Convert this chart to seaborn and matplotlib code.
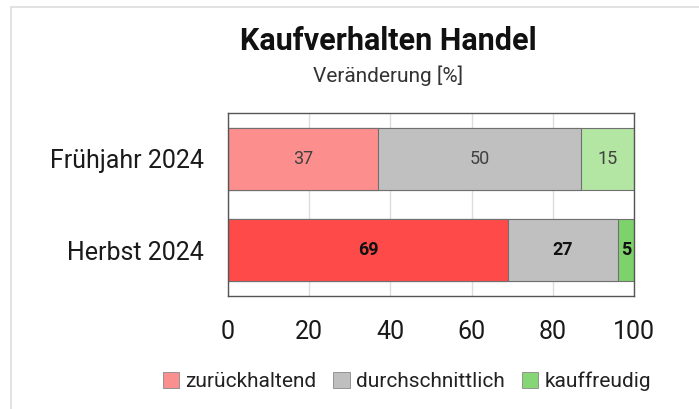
import matplotlib
matplotlib.use("Agg")
from matplotlib import pyplot as plt
from matplotlib.patches import Patch
from matplotlib.lines import Line2D
import numpy as np
import pandas as pd
import seaborn as sns

periods = ["Frühjahr 2024", "Herbst 2024"]
segments = ["zurückhaltend", "durchschnittlich", "kauffreudig"]
zurueck = [37, 69]
durchschnitt = [50, 27]
kauffreudig = [15, 5]

colors = {
    "zurückhaltend": ["#fc8e8e", "#ff4a4a"],
    "durchschnittlich": ["#c0c0c0", "#c0c0c0"],
    "kauffreudig": ["#b3e5a3", "#7ed26c"],
}
legend_colors = ["#f98f8f", "#bfbfbf", "#86d676"]

sns.set_theme(style="white")
plt.rcParams['font.family'] = ['Roboto', 'DejaVu Sans']

fig = plt.figure(figsize=(6.99, 4.09), dpi=100)
ax = fig.add_axes([0.326, 0.276, 0.581, 0.448])

vals = np.array([zurueck, durchschnitt, kauffreudig], dtype=float)
cum = np.cumsum(vals, axis=0)

# draw from the back: total first, then smaller cumulative sums on top
for i in [2, 1, 0]:
    df = pd.DataFrame({"period": periods, "value": cum[i]})
    sns.barplot(data=df, x="value", y="period", hue="period",
                palette=colors[segments[i]], saturation=1, orient="h", width=0.68,
                edgecolor="#707070", linewidth=0.8, legend=False, ax=ax,
                zorder=2)

ax.set_xlim(0, 100)
ax.set_ylim(1.5, -0.5)
ax.set_xticks([0, 20, 40, 60, 80, 100])
ax.xaxis.grid(True, color="#dddddd", linewidth=1, zorder=0)
ax.set_axisbelow(True)
ax.set_xlabel("")
ax.set_ylabel("")
ax.tick_params(axis="both", length=0, labelsize=18, colors="#1a1a1a")
ax.tick_params(axis="y", pad=17)
ax.tick_params(axis="x", pad=17)
for s in ax.spines.values():
    s.set_color("#555555")
    s.set_linewidth(1.0)

# value labels
for r in range(len(periods)):
    left = 0.0
    for i in range(3):
        right = left + vals[i, r]
        xc = (left + min(right, 100)) / 2
        if r == 0:
            ax.text(xc, r, f"{int(vals[i, r])}", ha="center", va="center",
                    fontsize=13, color="#404040", zorder=5)
        else:
            ax.text(xc, r, f"{int(vals[i, r])}", ha="center", va="center",
                    fontsize=13, color="#111111", fontweight="bold", zorder=5)
        left = right

fig.text(0.555, 0.9, "Kaufverhalten Handel", ha="center", va="center",
         fontsize=22, fontweight="bold", color="#111111")
fig.text(0.555, 0.816, "Veränderung [%]", ha="center", va="center",
         fontsize=15, color="#333333")

handles = [Patch(facecolor=c, edgecolor="#888888", linewidth=0.6) for c in legend_colors]
fig.legend(handles, segments, loc="center", bbox_to_anchor=(0.582, 0.068),
           ncol=3, frameon=False, fontsize=15, handlelength=0.8, handleheight=0.8,
           handletextpad=0.3, columnspacing=0.8, labelcolor="#222222")

# light frame on the top and left edges
fig.add_artist(Line2D([0.016, 1.0], [0.983, 0.983], color="#dddddd", linewidth=1.2,
                      transform=fig.transFigure))
fig.add_artist(Line2D([0.016, 0.016], [0.0, 0.983], color="#dddddd", linewidth=1.2,
                      transform=fig.transFigure))

fig.savefig("out.png", dpi=100)
